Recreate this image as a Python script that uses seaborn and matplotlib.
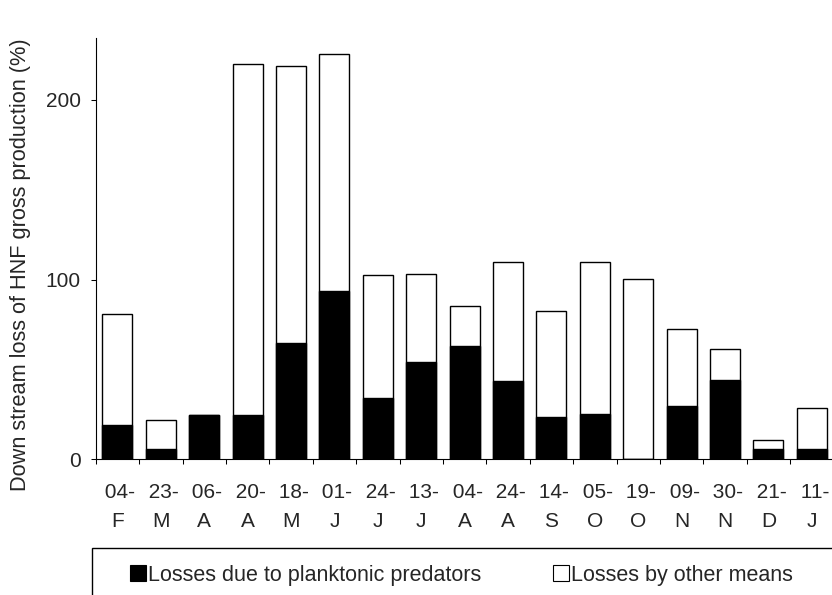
import numpy as np
import pandas as pd
import matplotlib
matplotlib.use("Agg")
import matplotlib.pyplot as plt
from matplotlib.patches import Patch, Rectangle
import seaborn as sns

# ---- data ----
day_labels = ["04-", "23-", "06-", "20-", "18-", "01-", "24-", "13-", "04-",
              "24-", "14-", "05-", "19-", "09-", "30-", "21-", "11-"]
month_labels = ["F", "M", "A", "A", "M", "J", "J", "J", "A",
                "A", "S", "O", "O", "N", "N", "D", "J"]
predators = [19.1, 5.6, 24.7, 24.5, 64.9, 93.5, 34.3, 54.2, 63.1,
             43.4, 23.6, 25.4, 0.0, 29.9, 44.2, 5.6, 5.6]
other_means = [61.8, 16.3, 0.0, 195.5, 154.2, 131.9, 68.1, 49.1, 22.2,
               66.2, 59.0, 84.2, 100.6, 42.8, 17.0, 5.3, 23.2]
y_ticks = [0, 100, 200]
series_names = ["Losses due to planktonic predators", "Losses by other means"]
y_label = "Down stream loss of HNF gross production (%)"

labels = [f" {d}\n{m}" for d, m in zip(day_labels, month_labels)]
df = pd.DataFrame({"label": labels,
                   "pred": predators,
                   "other": other_means})
df["total"] = df["pred"] + df["other"]

sns.set_style("ticks")
plt.rcParams["font.family"] = ["Liberation Sans", "DejaVu Sans"]
FS = 15

fig = plt.figure(figsize=(8.32, 5.95), dpi=100)
W, H = 832, 595
ax = fig.add_axes([95.7 / W, 1 - 459.3 / H, (833.5 - 95.7) / W, (459.3 - 38) / H])

sns.barplot(data=df, x="label", y="total", color="white", edgecolor="black",
            linewidth=1.0, width=0.69, saturation=1, ax=ax)
sns.barplot(data=df, x="label", y="pred", color="black", edgecolor="black",
            linewidth=1.0, width=0.69, saturation=1, ax=ax)

n = len(labels)
ax.set_xlim(-0.5, n - 0.5)
ax.set_ylim(0, 234.5)
ax.set_xticks(np.arange(-0.5, n, 1.0))
ax.set_xticklabels([""] * (n + 1))
ax.set_xticks(np.arange(n), minor=True)
ax.set_xticklabels(labels, minor=True, fontsize=FS, linespacing=1.70)
ax.tick_params(axis="x", which="major", length=3.6, width=0.75, color="black", direction="out")
ax.tick_params(axis="x", which="minor", length=0, pad=17.0)
ax.set_yticks(y_ticks)
ax.set_yticklabels([str(v) for v in y_ticks], fontsize=FS)
ax.tick_params(axis="y", length=3.6, width=0.75, color="black", pad=7.2, direction="out")
ax.set_xlabel("")
ax.set_ylabel(y_label, fontsize=15.7)
ax.yaxis.set_label_coords(-0.0877, (459.3 - 265) / (459.3 - 38))

sns.despine(ax=ax)
for s in ("left", "bottom"):
    ax.spines[s].set_linewidth(0.8)
    ax.spines[s].set_color("black")

# legend box (extends beyond the figure edge, as in the reference)
fig.patches.append(Rectangle((92.3 / W, -0.1), 1.0, 0.1 + (1 - 547.7 / H),
                             transform=fig.transFigure, fill=False,
                             edgecolor="black", linewidth=1.0))
handles = [Patch(facecolor="black", edgecolor="black", linewidth=0.8),
           Patch(facecolor="white", edgecolor="black", linewidth=0.8)]
fig.legend(handles, series_names, loc="center left",
           bbox_to_anchor=(130 / W, 1 - 575 / H), ncol=2, frameon=False,
           fontsize=15.5, handlelength=0.75, handleheight=0.75,
           handletextpad=0.1, columnspacing=3.3, borderpad=0, borderaxespad=0)

fig.savefig("out.png", dpi=100)
